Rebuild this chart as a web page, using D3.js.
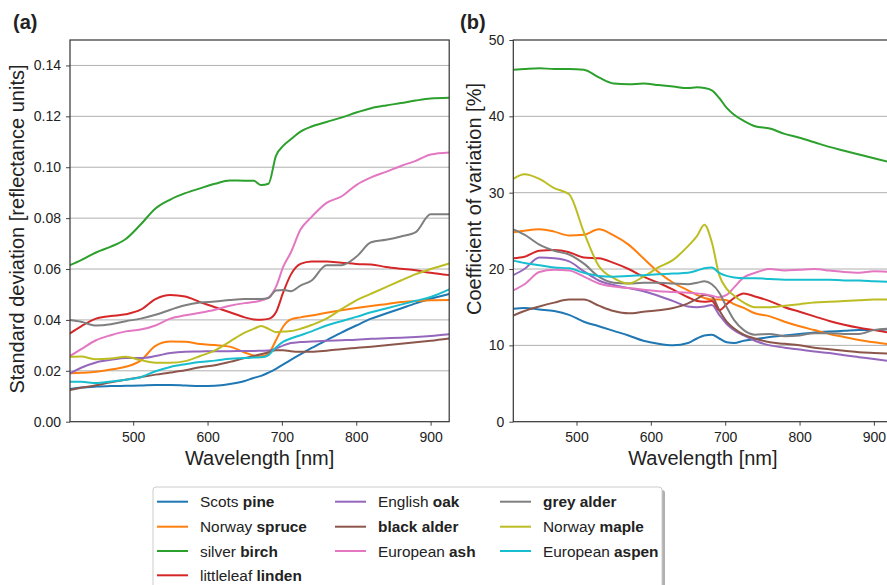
<!DOCTYPE html>
<html>
<head>
<meta charset="utf-8">
<script src="https://cdn.jsdelivr.net/npm/d3@7"></script>
<style>
  body { margin: 0; background: #fff; }
  text { font-family: "Liberation Sans", Arial, sans-serif; fill: #222; }
</style>
</head>
<body>
<div id="chart"></div>
<script>
var width = 887, height = 585;

// shared wavelength grid [nm]
var wavelengths = [415,430,450,470,490,510,530,550,570,590,610,630,650,662,672,682,692,702,712,725,740,760,780,800,820,840,860,880,900,925];

// (a) standard deviation [reflectance units]
var sdPine       = [.0128,.0134,.0138,.0140,.0141,.0142,.0144,.0144,.0142,.0140,.0141,.0148,.0160,.0172,.0180,.0193,.0208,.0225,.0243,.0265,.0290,.0320,.0350,.0378,.0405,.0425,.0445,.0465,.0483,.0502];
var sdSpruce     = [.0190,.0192,.0196,.0205,.0216,.0240,.0298,.0315,.0314,.0305,.0301,.0295,.0272,.0260,.0257,.0268,.0320,.0375,.0402,.0410,.0417,.0428,.0438,.0447,.0455,.0462,.0470,.0474,.0477,.0478];
var sdBirch      = [.0615,.0635,.0665,.0688,.0718,.0775,.0838,.0873,.0898,.0917,.0935,.0948,.0947,.0947,.0930,.0935,.1045,.1085,.1110,.1140,.1160,.1178,.1195,.1215,.1232,.1243,.1252,.1262,.1270,.1273];
var sdLinden     = [.0347,.0375,.0405,.0415,.0422,.0440,.0482,.0498,.0492,.0470,.0450,.0430,.0410,.0402,.0401,.0404,.0430,.0510,.0578,.0620,.0630,.0630,.0625,.0620,.0618,.0608,.0601,.0595,.0585,.0576];
var sdOak        = [.0190,.0212,.0233,.0243,.0250,.0250,.0258,.0270,.0275,.0276,.0277,.0277,.0278,.0278,.0279,.0280,.0287,.0300,.0309,.0313,.0315,.0318,.0320,.0322,.0326,.0328,.0330,.0333,.0337,.0344];
var sdBlackAlder = [.0125,.0133,.0143,.0155,.0165,.0175,.0185,.0193,.0202,.0214,.0222,.0235,.0250,.0258,.0265,.0273,.0281,.0281,.0277,.0275,.0275,.0279,.0285,.0290,.0295,.0300,.0306,.0312,.0318,.0327];
var sdAsh        = [.0258,.0285,.0320,.0340,.0355,.0362,.0378,.0405,.0418,.0428,.0440,.0456,.0466,.0470,.0476,.0488,.0530,.0610,.0665,.0755,.0805,.0860,.0885,.0930,.0960,.0982,.1005,.1025,.1050,.1058];
var sdGreyAlder  = [.0400,.0393,.0378,.0383,.0395,.0405,.0420,.0440,.0458,.0468,.0472,.0478,.0482,.0482,.0482,.0486,.0516,.0518,.0513,.0535,.0555,.0615,.0615,.0648,.0705,.0715,.0728,.0745,.0815,.0815];
var sdMaple      = [.0255,.0256,.0245,.0248,.0255,.0242,.0232,.0232,.0238,.0258,.0280,.0315,.0350,.0365,.0376,.0365,.0352,.0354,.0356,.0365,.0380,.0405,.0442,.0477,.0503,.0529,.0555,.0580,.0600,.0622];
var sdAspen      = [.0157,.0157,.0152,.0158,.0165,.0175,.0198,.0215,.0226,.0235,.0240,.0247,.0250,.0252,.0253,.0262,.0292,.0315,.0327,.0340,.0355,.0378,.0395,.0412,.0430,.0445,.0460,.0475,.0490,.0520];

// (b) coefficient of variation [%]
var cvPine       = [14.8,14.9,14.7,14.5,14.0,13.1,12.5,11.9,11.3,10.6,10.2,10.0,10.3,10.9,11.3,11.4,10.9,10.4,10.3,10.6,10.8,11.1,11.3,11.5,11.7,11.8,11.9,12.0,12.0,12.2];
var cvSpruce     = [24.8,25.0,25.2,24.9,24.4,24.5,25.2,24.4,23.2,21.4,19.6,18.2,17.2,16.6,16.2,16.0,16.0,15.9,15.4,14.9,14.2,13.8,13.1,12.5,12.0,11.5,11.1,10.7,10.4,10.1];
var cvBirch      = [46.1,46.2,46.3,46.2,46.2,46.1,45.1,44.3,44.2,44.3,44.1,43.9,43.7,43.8,43.7,43.4,42.4,41.1,40.2,39.4,38.7,38.4,37.7,37.2,36.6,36.0,35.5,35.0,34.5,33.9];
var cvLinden     = [21.4,21.6,22.4,22.5,22.2,21.5,21.4,20.8,20.0,19.0,18.2,17.3,16.3,15.8,15.7,15.8,14.6,15.4,16.2,16.8,16.4,15.8,15.0,14.4,13.8,13.2,12.7,12.3,12.0,11.6];
var cvOak        = [19.2,20.0,21.5,21.4,21.0,19.7,18.5,17.9,17.5,17.1,16.5,15.8,15.1,15.0,15.1,15.3,14.0,12.8,12.0,11.3,10.6,10.0,9.7,9.45,9.2,9.0,8.7,8.45,8.2,7.9];
var cvBlackAlder = [13.9,14.5,15.1,15.6,16.0,16.0,15.2,14.5,14.2,14.4,14.6,14.9,15.5,16.1,16.6,16.4,14.6,13.1,12.2,11.4,10.9,10.4,10.2,10.0,9.7,9.5,9.3,9.1,9.0,8.9];
var cvAsh        = [17.2,18.0,19.6,19.9,19.8,19.0,18.1,17.7,17.5,17.3,17.1,17.0,16.9,16.8,16.7,16.5,16.3,16.6,17.6,18.9,19.5,20.0,19.8,19.9,20.0,19.8,19.6,19.5,19.7,19.6];
var cvGreyAlder  = [25.2,24.5,23.2,22.4,21.9,20.7,19.0,18.2,18.1,18.2,18.2,18.1,18.0,18.2,18.4,18.0,16.9,15.0,13.3,12.0,11.4,11.5,11.2,11.3,11.6,11.6,11.5,11.5,12.0,12.2];
var cvMaple      = [31.8,32.4,31.8,30.6,29.8,24.8,20.4,18.8,18.1,19.0,20.2,21.2,23.0,24.3,25.8,23.5,19.2,17.4,16.5,15.6,15.0,15.0,15.2,15.4,15.6,15.7,15.8,15.9,16.0,16.0];
var cvAspen      = [21.1,20.8,20.5,20.2,20.1,19.5,19.1,19.0,19.1,19.2,19.3,19.4,19.5,19.8,20.1,20.2,19.5,19.1,18.9,18.8,18.8,18.7,18.6,18.6,18.6,18.6,18.5,18.5,18.4,18.3];

// legend names: [plain part, bold part]
var speciesNames = [
  ["Scots ", "pine"], ["Norway ", "spruce"], ["silver ", "birch"], ["littleleaf ", "linden"],
  ["English ", "oak"], ["", "black alder"], ["European ", "ash"],
  ["", "grey alder"], ["Norway ", "maple"], ["European ", "aspen"]
];
var colors = ["#1f77b4","#ff7f0e","#2ca02c","#d62728","#9467bd","#8c564b","#e377c2","#7f7f7f","#bcbd22","#17becf"];

var sdSeries = [sdPine, sdSpruce, sdBirch, sdLinden, sdOak, sdBlackAlder, sdAsh, sdGreyAlder, sdMaple, sdAspen];
var cvSeries = [cvPine, cvSpruce, cvBirch, cvLinden, cvOak, cvBlackAlder, cvAsh, cvGreyAlder, cvMaple, cvAspen];

var xTicks = [500, 600, 700, 800, 900];
var sdTicks = [0, 0.02, 0.04, 0.06, 0.08, 0.10, 0.12, 0.14];
var cvTicks = [0, 10, 20, 30, 40, 50];

var svg = d3.select('#chart').append('svg')
    .attr('width', width)
    .attr('height', height);

var plotTop = 40, plotBottom = 421.7, plotW = 379.2;

function drawPanel(left, series, yMax, ticks, fmt, ylabel, labelX, labelY, tag) {
    var x = d3.scaleLinear().domain([415, 925]).range([left, left + plotW]);
    var y = d3.scaleLinear().domain([0, yMax]).range([plotBottom, plotTop]);

    var g = svg.append('g');

    // grid
    g.selectAll('line.grid').data(ticks.filter(function(t) { return t > 0 && t < yMax; }))
      .enter().append('line')
        .attr('x1', left).attr('x2', left + plotW)
        .attr('y1', function(d) { return y(d); })
        .attr('y2', function(d) { return y(d); })
        .attr('stroke', '#b0b0b0')
        .attr('stroke-width', 1);

    var clipId = 'clip' + tag;
    svg.append('clipPath').attr('id', clipId)
      .append('rect').attr('x', left).attr('y', plotTop).attr('width', plotW).attr('height', plotBottom - plotTop);

    var line = d3.line()
        .x(function(d, i) { return x(wavelengths[i]); })
        .y(function(d) { return y(d); })
        .curve(d3.curveMonotoneX);

    g.append('g').attr('clip-path', 'url(#' + clipId + ')')
      .selectAll('path').data(series).enter().append('path')
        .attr('d', line)
        .attr('fill', 'none')
        .attr('stroke', function(d, i) { return colors[i]; })
        .attr('stroke-width', 2);

    // axes
    var xAxis = d3.axisBottom(x).tickValues(xTicks).tickSize(4).tickPadding(6);
    var yAxis = d3.axisLeft(y).tickValues(ticks).tickFormat(fmt).tickSize(4).tickPadding(5);

    var gx = g.append('g').attr('transform', 'translate(0,' + plotBottom + ')').call(xAxis);
    var gy = g.append('g').attr('transform', 'translate(' + left + ',0)').call(yAxis);
    [gx, gy].forEach(function(a) {
        a.select('.domain').remove();
        a.selectAll('line').attr('stroke', '#444');
        a.selectAll('text').style('font-size', '14px').style('fill', '#222')
          .style('font-family', '"Liberation Sans", Arial, sans-serif');
    });

    // frame
    g.append('rect')
        .attr('x', left).attr('y', plotTop)
        .attr('width', plotW).attr('height', plotBottom - plotTop)
        .attr('fill', 'none')
        .attr('stroke', '#333')
        .attr('stroke-width', 1.2);

    g.append('text')
        .attr('x', left + plotW / 2).attr('y', 465)
        .attr('text-anchor', 'middle')
        .style('font-size', '20px')
        .text('Wavelength [nm]');

    g.append('text')
        .attr('transform', 'translate(' + labelX + ',' + labelY + ') rotate(-90)')
        .attr('text-anchor', 'middle')
        .style('font-size', '20px')
        .text(ylabel);
}

drawPanel(70, sdSeries, 0.15, sdTicks, d3.format('.2f'), 'Standard deviation [reflectance units]', 24, 229, 'a');
drawPanel(513.3, cvSeries, 50, cvTicks, d3.format('d'), 'Coefficient of variation [%]', 481, 199, 'b');

svg.append('text').attr('x', 13).attr('y', 29)
    .style('font-size', '20px').style('font-weight', 'bold').text('(a)');
svg.append('text').attr('x', 460).attr('y', 29)
    .style('font-size', '20px').style('font-weight', 'bold').text('(b)');

// legend
var legX = 153, legY = 487;
svg.append('rect')
    .attr('x', legX + 3).attr('y', legY + 3)
    .attr('width', 509).attr('height', 110)
    .attr('rx', 3).attr('fill', '#b0b0b0');
svg.append('rect')
    .attr('x', legX).attr('y', legY)
    .attr('width', 509).attr('height', 110)
    .attr('rx', 3).attr('fill', '#fff')
    .attr('stroke', '#cccccc');

var colX = [157, 335, 500];
var rowY = [501.7, 526.7, 551, 575.3];

var legendItems = speciesNames.map(function(n, i) {
    var c = i < 4 ? 0 : (i < 7 ? 1 : 2);
    var r = i < 4 ? i : (i < 7 ? i - 4 : i - 7);
    return { name: n, color: colors[i], col: c, row: r };
});

var li = svg.selectAll('g.leg').data(legendItems).enter().append('g')
    .attr('transform', function(d) { return 'translate(' + colX[d.col] + ',' + rowY[d.row] + ')'; });

li.append('line')
    .attr('x1', 0).attr('x2', 31).attr('y1', 0).attr('y2', 0)
    .attr('stroke', function(d) { return d.color; })
    .attr('stroke-width', 2);

var lt = li.append('text')
    .attr('x', 43).attr('y', 5.5)
    .style('font-size', '15.4px');
lt.append('tspan').text(function(d) { return d.name[0]; });
lt.append('tspan').style('font-weight', 'bold').text(function(d) { return d.name[1]; });
</script>
</body>
</html>
